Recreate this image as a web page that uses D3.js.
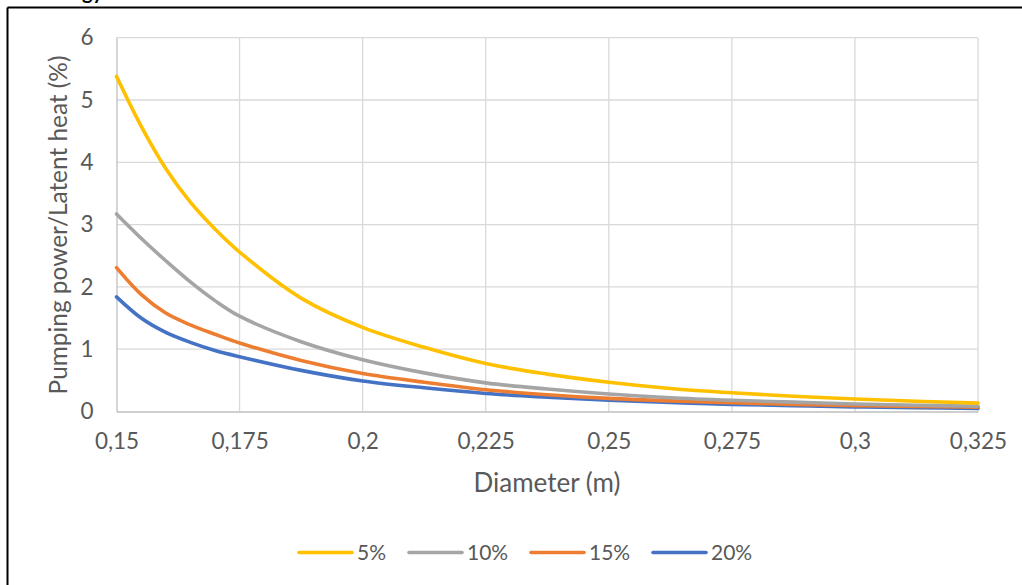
<!DOCTYPE html>
<html>
<head>
<meta charset="utf-8">
<script src="https://cdn.jsdelivr.net/npm/d3@7"></script>
<style>
  html, body { margin: 0; padding: 0; background: #fff; }
  svg { display: block; }
  text { font-family: Lato, "Open Sans", sans-serif; }
</style>
</head>
<body>
<svg id="chart" width="1022" height="585"></svg>
<script>
// Pipe diameter (m)
const diameters = [0.15, 0.155, 0.16, 0.165, 0.17, 0.175, 0.1875, 0.2, 0.2125, 0.225, 0.2375, 0.25, 0.2625, 0.275, 0.2875, 0.3, 0.3125, 0.325];

// Pumping power / latent heat (%) for each concentration
const series5  = [5.38, 4.58, 3.90, 3.36, 2.93, 2.56, 1.82, 1.35, 1.03, 0.77, 0.60, 0.47, 0.37, 0.30, 0.245, 0.20, 0.165, 0.135];
const series10 = [3.17, 2.78, 2.42, 2.08, 1.78, 1.53, 1.12, 0.83, 0.62, 0.46, 0.36, 0.28, 0.22, 0.18, 0.15, 0.12, 0.10, 0.085];
const series15 = [2.31, 1.88, 1.58, 1.39, 1.24, 1.10, 0.82, 0.61, 0.47, 0.35, 0.27, 0.21, 0.17, 0.14, 0.115, 0.095, 0.08, 0.07];
const series20 = [1.84, 1.50, 1.27, 1.11, 0.98, 0.88, 0.66, 0.49, 0.38, 0.29, 0.23, 0.18, 0.145, 0.115, 0.095, 0.075, 0.06, 0.05];

const seriesNames = ["5%", "10%", "15%", "20%"];
const seriesColors = ["#FFC000", "#A5A5A5", "#ED7D31", "#4472C4"];

const xTicks = [0.15, 0.175, 0.2, 0.225, 0.25, 0.275, 0.3, 0.325];
const xTickLabels = ["0,15", "0,175", "0,2", "0,225", "0,25", "0,275", "0,3", "0,325"];
const yTicks = [0, 1, 2, 3, 4, 5, 6];

const svg = d3.select("#chart");

// outer frame (left and top edges only are within view)
svg.append("line").attr("x1", 7.5).attr("x2", 7.5).attr("y1", 7.5).attr("y2", 585)
  .attr("stroke", "#000").attr("stroke-width", 2);
svg.append("line").attr("x1", 7.5).attr("x2", 1022).attr("y1", 7.5).attr("y2", 7.5)
  .attr("stroke", "#000").attr("stroke-width", 2);
svg.append("text").attr("x", 103).attr("y", -1).attr("text-anchor", "end")
  .attr("font-size", 20).attr("font-weight", "bold").attr("fill", "#000").text("Energy");

const plot = { left: 116.5, right: 978, top: 37.7, bottom: 411.5 };

const x = d3.scaleLinear().domain([0.15, 0.325]).range([plot.left, plot.right]);
const y = d3.scaleLinear().domain([0, 6]).range([plot.bottom, plot.top]);

// gridlines
const grid = svg.append("g");
grid.selectAll("line.h").data(yTicks.filter(d => d > 0)).enter().append("line")
  .attr("x1", plot.left).attr("x2", plot.right)
  .attr("y1", d => y(d)).attr("y2", d => y(d))
  .attr("stroke", "#D9D9D9").attr("stroke-width", 1.3);
grid.selectAll("line.v").data(xTicks.slice(1)).enter().append("line")
  .attr("x1", d => x(d)).attr("x2", d => x(d))
  .attr("y1", plot.top).attr("y2", plot.bottom)
  .attr("stroke", "#D9D9D9").attr("stroke-width", 1.3);

// axes
const xAxis = d3.axisBottom(x).tickValues(xTicks)
  .tickFormat((d, i) => xTickLabels[i]).tickSize(0).tickPadding(22);
const gx = svg.append("g").attr("transform", `translate(0,${plot.bottom})`).call(xAxis);
gx.select(".domain").attr("stroke", "#BFBFBF").attr("stroke-width", 1.3);
gx.selectAll("text").attr("font-size", 22.5).attr("fill", "#595959").attr("font-family", "Lato");

const yAxis = d3.axisLeft(y).tickValues(yTicks).tickFormat(d3.format("d")).tickSize(0).tickPadding(23);
const gy = svg.append("g").attr("transform", `translate(${plot.left},0)`).call(yAxis);
gy.select(".domain").attr("stroke", "#BFBFBF").attr("stroke-width", 1.3);
gy.selectAll("text").attr("font-size", 22.5).attr("fill", "#595959").attr("font-family", "Lato");

// axis titles
svg.append("text").attr("x", 547).attr("y", 492)
  .attr("text-anchor", "middle").attr("font-size", 26).attr("fill", "#595959")
  .text("Diameter (m)");
svg.append("text").attr("transform", "translate(67,225) rotate(-90)")
  .attr("text-anchor", "middle").attr("font-size", 24.4).attr("fill", "#595959")
  .text("Pumping power/Latent heat (%)");

// series lines
const allSeries = [series5, series10, series15, series20];
const line = d3.line().x(d => x(d[0])).y(d => y(d[1])).curve(d3.curveCatmullRom.alpha(0.5));
const lines = svg.append("g");
allSeries.slice().reverse().forEach((vals, ri) => {
  const i = allSeries.length - 1 - ri;
  lines.append("path")
    .datum(diameters.map((dv, k) => [dv, vals[k]]))
    .attr("d", line)
    .attr("fill", "none")
    .attr("stroke", seriesColors[i])
    .attr("stroke-width", 3.6)
    .attr("stroke-linecap", "round")
    .attr("stroke-linejoin", "round");
});

// legend
const legendX = [298, 408, 530, 652];
const legend = svg.append("g");
seriesNames.forEach((name, i) => {
  legend.append("line")
    .attr("x1", legendX[i] + 1).attr("x2", legendX[i] + 54)
    .attr("y1", 552.5).attr("y2", 552.5)
    .attr("stroke", seriesColors[i]).attr("stroke-width", 3.6)
    .attr("stroke-linecap", "round");
  legend.append("text")
    .attr("x", legendX[i] + 59).attr("y", 560)
    .attr("font-size", 21).attr("fill", "#595959")
    .text(name);
});
</script>
</body>
</html>
